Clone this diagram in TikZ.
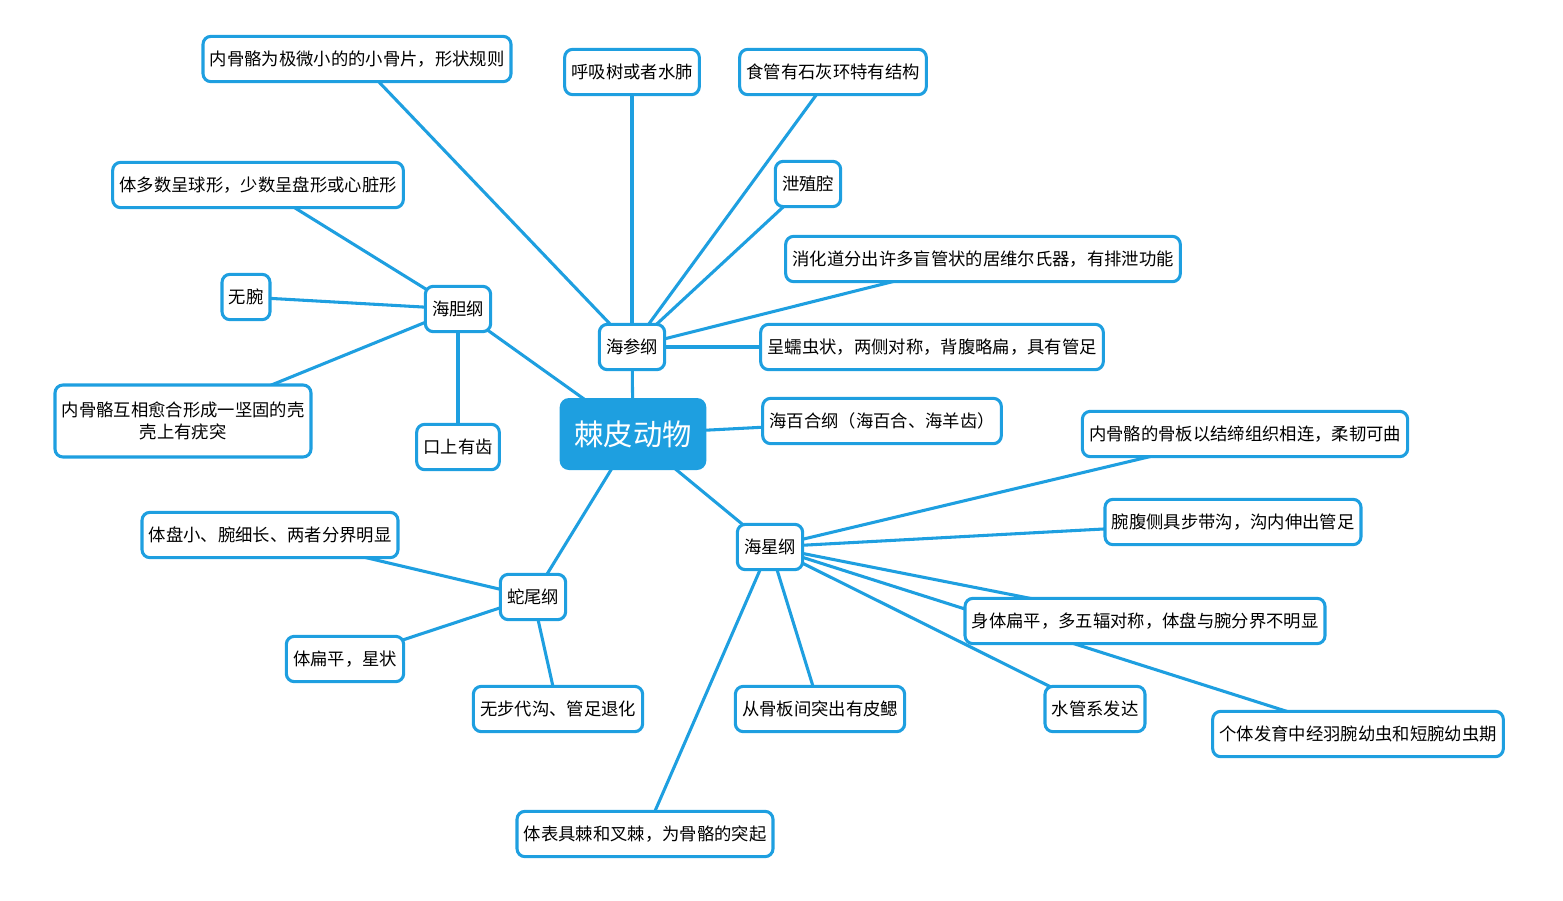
\documentclass[tikz,border=0pt]{standalone}
\usepackage{fontspec}
\setmainfont{Noto Sans CJK SC}
\usetikzlibrary{backgrounds}
\definecolor{mb}{HTML}{1E9FE0}
\begin{document}
\begin{tikzpicture}[x=0.75pt,y=-0.75pt,
  leaf/.style={draw=mb,line width=2.3pt,fill=white,rounded corners=6pt,minimum height=34pt,inner xsep=5pt,font=\fontsize{13pt}{16pt}\selectfont,align=center},
  root/.style={fill=mb,rounded corners=7pt,minimum width=110pt,minimum height=54pt,text=white,font=\fontsize{22pt}{26pt}\selectfont},
  link/.style={draw=mb,line width=2.3pt}]
\useasboundingbox (0,0) rectangle (1563,900);
\node[root] (r) at (633,434) {棘皮动物};
\node[leaf] (hs) at (632,347) {海参纲};
\node[leaf] (hd) at (458,309) {海胆纲};
\node[leaf] (hb) at (882,421) {海百合纲（海百合、海羊齿）};
\node[leaf] (hx) at (770,547) {海星纲};
\node[leaf] (sw) at (533,597) {蛇尾纲};
\node[leaf] (a1) at (357,59) {内骨骼为极微小的的小骨片，形状规则};
\node[leaf] (a2) at (632,72) {呼吸树或者水肺};
\node[leaf] (a3) at (833,72) {食管有石灰环特有结构};
\node[leaf] (a4) at (808,184) {泄殖腔};
\node[leaf] (a5) at (983,259) {消化道分出许多盲管状的居维尔氏器，有排泄功能};
\node[leaf] (a6) at (932,347) {呈蠕虫状，两侧对称，背腹略扁，具有管足};
\node[leaf] (b1) at (258,185) {体多数呈球形，少数呈盘形或心脏形};
\node[leaf] (b2) at (246,297) {无腕};
\node[leaf,minimum height=54pt] (b3) at (183,421) {内骨骼互相愈合形成一坚固的壳\\壳上有疣突};
\node[leaf] (b4) at (458,447) {口上有齿};
\node[leaf] (c1) at (1245,434) {内骨骼的骨板以结缔组织相连，柔韧可曲};
\node[leaf] (c2) at (1233,522) {腕腹侧具步带沟，沟内伸出管足};
\node[leaf] (c3) at (1145,621) {身体扁平，多五辐对称，体盘与腕分界不明显};
\node[leaf] (c4) at (1095,709) {水管系发达};
\node[leaf] (c5) at (1358,734) {个体发育中经羽腕幼虫和短腕幼虫期};
\node[leaf] (c6) at (820,709) {从骨板间突出有皮鳃};
\node[leaf] (c7) at (645,834) {体表具棘和叉棘，为骨骼的突起};
\node[leaf] (d1) at (270,535) {体盘小、腕细长、两者分界明显};
\node[leaf] (d2) at (345,659) {体扁平，星状};
\node[leaf] (d3) at (558,709) {无步代沟、管足退化};
\begin{scope}[on background layer]
\foreach \p/\c in {r/hs,r/hd,r/hb,r/hx,r/sw,hs/a1,hs/a2,hs/a3,hs/a4,hs/a5,hs/a6,hd/b1,hd/b2,hd/b3,hd/b4,hx/c1,hx/c2,hx/c3,hx/c4,hx/c5,hx/c6,hx/c7,sw/d1,sw/d2,sw/d3}
  \draw[link] (\p.center) -- (\c.center);
\end{scope}
\end{tikzpicture}
\end{document}
